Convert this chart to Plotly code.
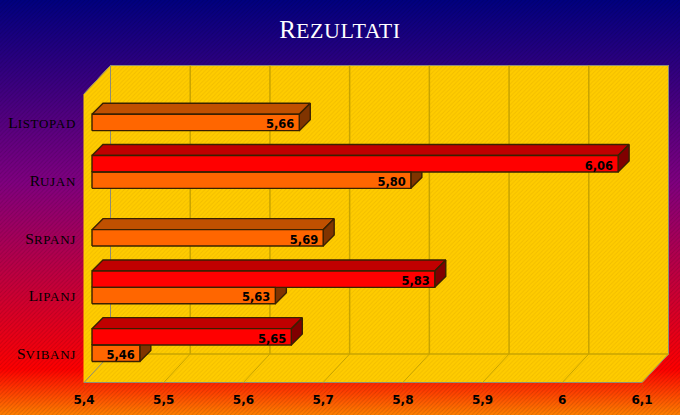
# results chart with fake 3D bars, drawn on a pixel layer plus real bar axes
import plotly.graph_objects as go

# data
months = ["Svibanj", "Lipanj", "Srpanj", "Rujan", "Listopad"]
orange_values = [5.46, 5.63, 5.69, 5.80, 5.66]
red_values = [5.65, 5.83, None, 6.06, None]
x_ticks = [5.4, 5.5, 5.6, 5.7, 5.8, 5.9, 6.0, 6.1]
x_tick_labels = ["5,4", "5,5", "5,6", "5,7", "5,8", "5,9", "6", "6,1"]

W, H = 680, 415

# front edge of the floor, in pixels
AXIS_L, AXIS_R, AXIS_T, AXIS_B = 84, 642, 94, 382.5
# how far the back wall sits behind the front edge
WALL_DX, WALL_DY = 26.5, -28.5
# plane the bars stand on, and the depth of one bar
BAR_DX, BAR_DY = 8, -8.6
DEPTH_X, DEPTH_Y = 11, -11
BAR_GAP = 0.432

WALL = "#FFCC00"
GRID = "#C8A400"
EDGE = "#8C8C78"
OUTLINE = "#3A2000"
SANS = "DejaVu Sans"
SERIF = "Liberation Serif"


def val_px(v, shift=0):
    return AXIS_L + shift + (v - x_ticks[0]) / (x_ticks[-1] - x_ticks[0]) * (AXIS_R - AXIS_L)


def band_px(i):
    # bottom of category i on the bar plane, i counts from the bottom
    return AXIS_B + BAR_DY - i * (AXIS_B - AXIS_T) / len(months)


def dom_x(a, b):
    return [a / W, b / W]


def dom_y(top, bottom):
    return [1 - bottom / H, 1 - top / H]


def caps(word, size, spacing):
    # the small capitals are nearly as tall as the first letter in the original
    return "%s<span style='font-size:%dpx;letter-spacing:%spx'>%s</span>" % (word[0], size, spacing, word[1:])


fig = go.Figure()


def poly(xs, ys, color, line=None, width=1, pattern=None):
    fig.add_trace(go.Scatter(x=xs + xs[:1], y=ys + ys[:1], mode="lines", fill="toself",
                             fillcolor=color, fillpattern=pattern,
                             line=dict(color=line or color, width=width),
                             hoverinfo="skip", showlegend=False, xaxis="x", yaxis="y"))


def seg(xs, ys, color, width=1):
    fig.add_trace(go.Scatter(x=xs, y=ys, mode="lines", line=dict(color=color, width=width),
                             hoverinfo="skip", showlegend=False, xaxis="x", yaxis="y"))


# background gradient
fig.add_trace(go.Scatter(x=[0, W, W, 0, 0], y=[0, 0, H, H, 0], mode="lines", fill="toself",
                         line=dict(width=0), hoverinfo="skip", showlegend=False,
                         fillgradient=dict(type="vertical", colorscale=[
                             [0, "#FF8000"], [0.11, "#FF0000"], [0.56, "#800080"], [1, "#000080"]]),
                         xaxis="x", yaxis="y"))
# fine diagonal texture over it
poly([0, W, W, 0], [0, 0, H, H], "rgba(0,0,0,0)", "rgba(0,0,0,0)", 0,
     pattern=dict(shape="/", size=3, solidity=0.3, fgcolor="rgba(0,0,0,0.14)", bgcolor="rgba(0,0,0,0)"))

# walls
back_l, back_r = AXIS_L + WALL_DX, AXIS_R + WALL_DX
back_t, back_b = AXIS_T + WALL_DY, AXIS_B + WALL_DY
poly([AXIS_L, back_l, back_r, back_r, AXIS_R, AXIS_L],
     [AXIS_T, back_t, back_t, back_b, AXIS_B, AXIS_B], WALL,
     pattern=dict(shape="/", size=3, solidity=0.3, fgcolor="#F2BE00", bgcolor=WALL))
seg([AXIS_L, back_l, back_r, back_r, AXIS_R], [AXIS_T, back_t, back_t, back_b, AXIS_B], EDGE)
seg([back_l, back_l], [back_t, back_b], EDGE)
seg([back_l, back_r], [back_b, back_b], GRID, 1.5)
seg([AXIS_L, back_l], [AXIS_B, back_b], EDGE)
seg([AXIS_L, AXIS_R], [AXIS_B, AXIS_B], EDGE)

# grid on the back wall and the floor
for t in x_ticks[1:-1]:
    seg([val_px(t, WALL_DX), val_px(t, WALL_DX)], [back_t, back_b], GRID, 1.5)
    seg([val_px(t), val_px(t, WALL_DX)], [AXIS_B, back_b], GRID)

# top and side faces of the bars, orange first so red covers it
band_h = (AXIS_B - AXIS_T) / len(months)
bar_h = band_h * (1 - BAR_GAP) / 2
for values, top_c, side_c, row in [(orange_values, "#C05000", "#803400", 0),
                                   (red_values, "#C00000", "#800000", 1)]:
    for i, v in enumerate(values):
        if v is None:
            continue
        centre = band_px(i) - band_h / 2
        y_low = centre + bar_h - row * bar_h
        y_up = y_low - bar_h
        x0, x1 = val_px(x_ticks[0], BAR_DX), val_px(v, BAR_DX)
        poly([x0, x1, x1 + DEPTH_X, x0 + DEPTH_X],
             [y_up, y_up, y_up + DEPTH_Y, y_up + DEPTH_Y], top_c, OUTLINE, 1.4)
        poly([x1, x1 + DEPTH_X, x1 + DEPTH_X, x1],
             [y_up, y_up + DEPTH_Y, y_low + DEPTH_Y, y_low], side_c, OUTLINE, 1.4)

# invisible trace so the tick axes are drawn
fig.add_trace(go.Bar(x=[x_ticks[0]], y=[months[0]], orientation="h", marker_opacity=0,
                     hoverinfo="skip", showlegend=False, base=[x_ticks[0]], xaxis="x2", yaxis="y2"))

# front faces
for name, values, color in [("A", orange_values, "#FF6600"), ("B", red_values, "#FF0000")]:
    fig.add_trace(go.Bar(x=values, y=months, orientation="h", name=name, showlegend=False,
                         marker=dict(color=color, line=dict(width=0)),
                         cliponaxis=False, xaxis="x3", yaxis="y3"))

# outlines and value labels, on a pixel layer above the bars
for values, row in [(orange_values, 0), (red_values, 1)]:
    xs, ys, labels = [], [], []
    for i, v in enumerate(values):
        if v is None:
            continue
        centre = band_px(i) - band_h / 2
        y_low = centre + bar_h - row * bar_h
        x0, x1 = val_px(x_ticks[0], BAR_DX), val_px(v, BAR_DX)
        fig.add_trace(go.Scatter(x=[x0, x1, x1, x0, x0], y=[y_low, y_low, y_low - bar_h, y_low - bar_h, y_low],
                                 mode="lines", line=dict(color=OUTLINE, width=1.4), hoverinfo="skip",
                                 showlegend=False, xaxis="x4", yaxis="y4"))
        xs.append(x1 - 5)
        ys.append(y_low - bar_h / 2 + 3)
        labels.append(("%.2f" % v).replace(".", ","))
    fig.add_trace(go.Scatter(x=xs, y=ys, text=labels, mode="text", textposition="middle left",
                             textfont=dict(family=SANS, size=11.5, color="#000000", weight="bold"),
                             hoverinfo="skip", showlegend=False, cliponaxis=False,
                             xaxis="x4", yaxis="y4"))

fig.update_layout(
    template="none",
    width=W, height=H, margin=dict(l=0, r=0, t=0, b=0, pad=0), autosize=False,
    paper_bgcolor="#000080", plot_bgcolor="rgba(0,0,0,0)",
    barmode="group", bargap=BAR_GAP, bargroupgap=0,
    title=dict(text=caps("Rezultati", 31, 0.6), x=0.5, xanchor="center", y=0.93, yanchor="middle",
               font=dict(family=SERIF, size=25, color="#FFFFFF", variant="small-caps")),
    # pixel layer
    xaxis=dict(domain=[0, 1], range=[0, W], visible=False, fixedrange=True, automargin=False),
    yaxis=dict(domain=[0, 1], range=[H, 0], visible=False, fixedrange=True, automargin=False),
    # tick axes along the front edge
    xaxis2=dict(domain=dom_x(AXIS_L, AXIS_R), range=[x_ticks[0], x_ticks[-1]], anchor="y2",
                tickvals=x_ticks, ticktext=x_tick_labels, showgrid=False, zeroline=False,
                showline=False, ticks="outside", ticklen=6, tickcolor="#E04000", automargin=False,
                tickfont=dict(family=SANS, size=12, color="#000000", weight="bold")),
    yaxis2=dict(domain=dom_y(AXIS_T, AXIS_B), type="category", categoryarray=months,
                categoryorder="array", range=[-0.5, 4.5], anchor="x2", showgrid=False,
                tickmode="array", tickvals=months, ticktext=[caps(m, 19, 0.7) for m in months],
                zeroline=False, showline=False, ticks="", ticklabelstandoff=7, automargin=False,
                tickfont=dict(family=SERIF, size=15.5, color="#000000", variant="small-caps")),
    # bar plane
    xaxis3=dict(domain=dom_x(AXIS_L + BAR_DX, AXIS_R + BAR_DX), range=[x_ticks[0], x_ticks[-1]],
                anchor="y3", visible=False, automargin=False),
    yaxis3=dict(domain=dom_y(AXIS_T + BAR_DY, AXIS_B + BAR_DY), type="category",
                categoryarray=months, categoryorder="array", range=[-0.5, 4.5],
                anchor="x3", visible=False, automargin=False),
    # pixel layer for the labels
    xaxis4=dict(domain=[0, 1], range=[0, W], anchor="y4", visible=False, fixedrange=True, automargin=False),
    yaxis4=dict(domain=[0, 1], range=[H, 0], anchor="x4", visible=False, fixedrange=True, automargin=False),
)

# the page keeps an 8px body margin otherwise
fig.write_html("out.html", config={"displayModeBar": False},
               post_script="document.body.style.margin='0';document.body.style.overflow='hidden';")
